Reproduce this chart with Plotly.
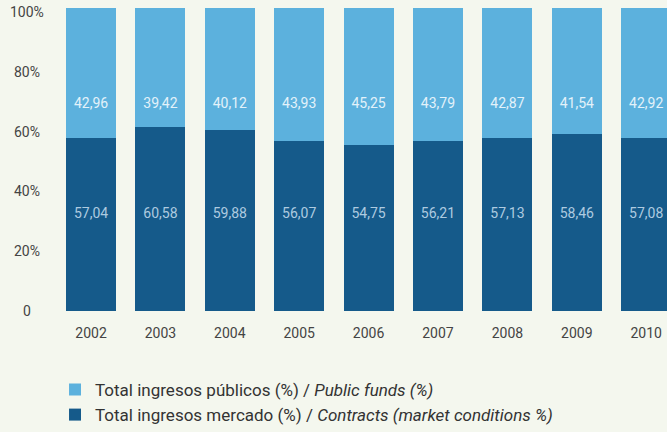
import plotly.graph_objects as go

years = ["2002", "2003", "2004", "2005", "2006", "2007", "2008", "2009", "2010"]
mercado = [57.04, 60.58, 59.88, 56.07, 54.75, 56.21, 57.13, 58.46, 57.08]
publicos = [42.96, 39.42, 40.12, 43.93, 45.25, 43.79, 42.87, 41.54, 42.92]
y_ticks = [0, 20, 40, 60, 80, 100]
y_tick_labels = ["0", "20%", "40%", "60%", "80%", "100%"]

name_pub = "Total ingresos públicos (%) / <i>Public funds (%)</i>"
name_mer = "Total ingresos mercado (%) / <i>Contracts (market conditions %)</i>"

DARK = "#155a8a"
LIGHT = "#5cb1dd"
BG = "#f4f7ee"
FONT = "Roboto"

def fmt(v):
    return f"{v:.2f}".replace(".", ",")

fig = go.Figure()
fig.add_trace(go.Bar(x=years, y=mercado, name=name_mer, marker_color=DARK,
                     marker_line_width=0, hoverinfo="skip"))
fig.add_trace(go.Bar(x=years, y=publicos, name=name_pub, marker_color=LIGHT,
                     marker_line_width=0, hoverinfo="skip"))

# value labels at fixed heights within each segment
fig.add_trace(go.Scatter(x=years, y=[31.7] * len(years), mode="text",
                         text=[fmt(v) for v in mercado],
                         textfont=dict(family=FONT, size=14, color="#aecbe0"),
                         showlegend=False, hoverinfo="skip", cliponaxis=False))
fig.add_trace(go.Scatter(x=years, y=[68.0] * len(years), mode="text",
                         text=[fmt(v) for v in publicos],
                         textfont=dict(family=FONT, size=14, color="#e3f2fa"),
                         showlegend=False, hoverinfo="skip", cliponaxis=False))

# y tick labels, centred
for v, lab in zip(y_ticks, y_tick_labels):
    fig.add_annotation(xref="paper", yref="y", x=-0.045, y=v, text=lab,
                       showarrow=False, xanchor="center", yanchor="middle",
                       yshift=-4 * v / 100,
                       font=dict(family=FONT, size=14, color="#444444"))

fig.update_layout(
    width=667, height=432,
    margin=dict(l=55, r=0, t=8, b=121, autoexpand=False),
    paper_bgcolor=BG, plot_bgcolor=BG,
    barmode="stack", bargap=0.28,
    font=dict(family=FONT, size=14, color="#444444"),
    xaxis=dict(type="category", range=[-0.519, 8.30], showgrid=False,
               zeroline=False, showline=False, ticks="",
               ticklabelstandoff=12,
               tickfont=dict(family=FONT, size=14, color="#444444")),
    yaxis=dict(range=[0, 100], showgrid=False, zeroline=False,
               showline=False, showticklabels=False, ticks=""),
    legend=dict(orientation="v", traceorder="reversed",
                xref="container", yref="container",
                x=0.0825, xanchor="left", y=0.139, yanchor="top",
                font=dict(family=FONT, size=17, color="#333333"),
                bgcolor="rgba(0,0,0,0)", tracegroupgap=0),
    showlegend=True,
)

fig.write_html(
    "out.html",
    config={"displayModeBar": False},
    post_script="document.body.style.margin='0';document.body.style.background='#f4f7ee';",
)
